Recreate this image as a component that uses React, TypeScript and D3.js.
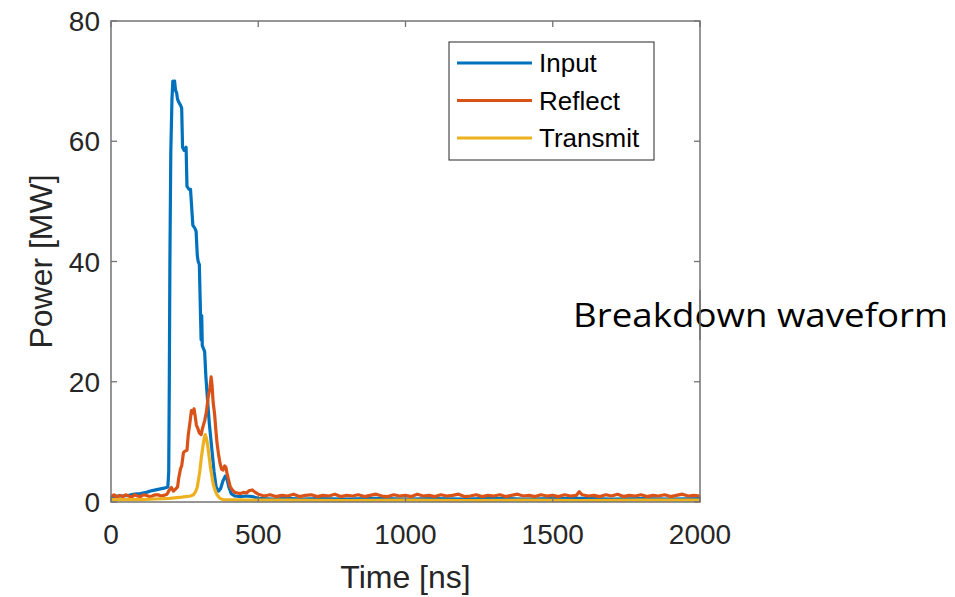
import React from "react";
import * as d3 from "d3";

// ---- data (time in ns, power in MW) ----
const inputT = [0, 20, 40, 60, 80, 100, 120, 140, 160, 180, 193, 196, 198, 200, 203, 207, 210, 213, 216, 219, 223, 226, 230, 236, 240, 243, 248, 255, 258, 265, 270, 278, 285, 289, 293, 296, 300, 304, 306, 308, 310, 314, 318, 322, 327, 334, 342, 350, 357, 365, 372, 380, 388, 394, 400, 408, 420, 440, 460, 480, 500, 550, 600, 650, 700, 800, 900, 1000, 1100, 1200, 1300, 1400, 1500, 1600, 1700, 1800, 1900, 2000];
const inputP = [0.9, 1.0, 1.0, 1.1, 1.3, 1.4, 1.6, 1.9, 2.1, 2.3, 2.5, 5, 20, 40, 58, 67, 70, 69.6, 70, 68.5, 68, 67, 66.5, 66, 65.5, 59, 58.5, 59, 52.5, 52, 52, 46, 45.5, 45, 41, 40, 39.5, 31, 27, 31, 26, 25.5, 25, 21, 17.5, 13, 9, 5, 2.5, 1.8, 2.2, 3.5, 4.3, 3.8, 2.5, 1.4, 1.0, 0.9, 1.0, 0.9, 0.6, 0.5, 0.6, 0.5, 0.55, 0.5, 0.6, 0.5, 0.55, 0.5, 0.6, 0.5, 0.55, 0.6, 0.5, 0.55, 0.5, 0.55];

const reflectT = [0, 10, 20, 30, 40, 50, 60, 70, 80, 90, 100, 110, 120, 130, 140, 150, 160, 170, 180, 190, 198, 205, 212, 220, 226, 230, 236, 240, 246, 252, 258, 262, 268, 273, 278, 282, 286, 290, 295, 300, 306, 312, 318, 324, 330, 336, 340, 343, 347, 352, 356, 360, 365, 370, 375, 380, 386, 390, 395, 400, 405, 412, 420, 430, 440, 450, 460, 470, 480, 490, 500,
  520, 540, 560, 580, 600, 620, 640, 660, 680, 700, 720, 740, 760, 780, 800, 820, 840, 860, 880, 900, 920, 940, 960, 980, 1000, 1020, 1040, 1060, 1080, 1100, 1120, 1140, 1160, 1180, 1200, 1220, 1240, 1260, 1280, 1300, 1320, 1340, 1360, 1380, 1400, 1420, 1440, 1460, 1480, 1500, 1520, 1540, 1560, 1580, 1590, 1600, 1620, 1640, 1660, 1680, 1700, 1720, 1740, 1760, 1780, 1800, 1820, 1840, 1860, 1880, 1900, 1920, 1940, 1960, 1980, 2000];
const reflectP = [0.9, 1.2, 0.8, 1.1, 0.9, 1.2, 1.0, 0.8, 1.2, 1.0, 0.9, 1.2, 1.1, 0.9, 1.0, 1.2, 1.2, 1.0, 1.1, 1.3, 2.0, 2.4, 1.8, 2.2, 2.5, 4, 5.5, 6, 8.2, 8.5, 8.6, 11, 13.2, 15.2, 14.8, 15.5, 14.2, 12.8, 12.2, 11.5, 11.2, 12.5, 13.5, 15, 17.5, 19, 20.8, 19.5, 16.5, 14.5, 12, 9.8, 8, 6.5, 5.5, 5.3, 6.0, 5.8, 4.5, 3.5, 2.5, 2.0, 1.6, 1.5, 1.4, 1.6, 1.5, 1.9, 2.0, 1.6, 1.3,
  1.0, 1.2, 0.9, 1.1, 1.0, 1.3, 0.9, 1.1, 1.2, 0.9, 1.1, 1.0, 1.3, 0.9, 1.1, 1.0, 1.2, 0.9, 1.1, 1.3, 1.0, 0.9, 1.2, 1.0, 1.1, 0.9, 1.3, 1.0, 1.1, 0.9, 1.2, 1.0, 1.1, 1.3, 0.9, 1.0, 1.2, 0.9, 1.1, 1.0, 1.2, 0.9, 1.1, 1.3, 1.0, 1.1, 0.9, 1.2, 1.0, 1.1, 0.9, 1.2, 1.0, 1.1, 1.7, 1.2, 1.0, 1.1, 0.9, 1.2, 1.0, 1.3, 0.9, 1.1, 1.0, 1.2, 0.9, 1.1, 1.0, 1.2, 0.9, 1.1, 1.3, 1.0, 1.1, 1.0];

const transmitT = [0, 100, 150, 200, 240, 270, 280, 288, 293, 298, 302, 307, 312, 316, 320, 324, 328, 332, 337, 342, 347, 353, 360, 370, 380, 450, 600, 800, 1000, 1200, 1400, 1600, 1800, 2000];
const transmitP = [0.4, 0.4, 0.5, 0.6, 0.8, 1.0, 1.2, 1.8, 2.5, 4, 5.3, 7.5, 9.2, 10.5, 11.2, 10.6, 9.5, 8, 6, 4.5, 3, 2, 1.2, 0.6, 0.4, 0.3, 0.3, 0.25, 0.3, 0.25, 0.3, 0.25, 0.3, 0.3];

const xTicks = [0, 500, 1000, 1500, 2000];
const yTicks = [0, 20, 40, 60, 80];
const seriesNames = ["Input", "Reflect", "Transmit"];
const seriesColors = ["#0072BD", "#D95319", "#EDB120"];

export default function App() {
  const x = d3.scaleLinear().domain([0, 2000]).range([111, 700]);
  const y = d3.scaleLinear().domain([0, 80]).range([502, 21]);
  const line = d3
    .line<[number, number]>()
    .x((d) => x(d[0]))
    .y((d) => y(d[1]));
  const series: [number, number][][] = [
    inputT.map((t, i) => [t, inputP[i]] as [number, number]),
    reflectT.map((t, i) => [t, reflectP[i]] as [number, number]),
    transmitT.map((t, i) => [t, transmitP[i]] as [number, number]),
  ];
  const axisColor = "#737373";
  const textColor = "#262626";
  const font = "'Liberation Sans', Arial, Helvetica, sans-serif";
  const [x0, x1] = x.range();
  const [y0, y1] = y.range();

  return (
    <svg
      width={955}
      height={597}
      style={{ position: "absolute", left: 0, top: 0, background: "#fff" }}
    >
      <rect x={0} y={0} width={955} height={597} fill="#fff" />
      <defs>
        <clipPath id="plotClip">
          <rect x={x0} y={y1} width={x1 - x0} height={y0 - y1} />
        </clipPath>
      </defs>
      <g clipPath="url(#plotClip)">
        {series.map((s, i) => (
          <path
            key={i}
            d={line(s) || ""}
            fill="none"
            stroke={seriesColors[i]}
            strokeWidth={3.2}
            strokeLinejoin="round"
          />
        ))}
      </g>
      {/* ticks */}
      {xTicks.map((t) => (
        <g key={"xt" + t}>
          <line x1={x(t)} x2={x(t)} y1={y0} y2={y0 - 6} stroke={axisColor} strokeWidth={1.3} />
          <line x1={x(t)} x2={x(t)} y1={y1} y2={y1 + 6} stroke={axisColor} strokeWidth={1.3} />
          <text
            x={x(t)}
            y={544}
            textAnchor="middle"
            fontFamily={font}
            fontSize={28}
            fill={textColor}
          >
            {t}
          </text>
        </g>
      ))}
      {yTicks.map((t) => (
        <g key={"yt" + t}>
          <line x1={x0} x2={x0 + 6} y1={y(t)} y2={y(t)} stroke={axisColor} strokeWidth={1.3} />
          <line x1={x1} x2={x1 - 6} y1={y(t)} y2={y(t)} stroke={axisColor} strokeWidth={1.3} />
          <text
            x={100}
            y={y(t)}
            dy="0.36em"
            textAnchor="end"
            fontFamily={font}
            fontSize={28}
            fill={textColor}
          >
            {t}
          </text>
        </g>
      ))}
      {/* box */}
      <rect
        x={x0}
        y={y1}
        width={x1 - x0}
        height={y0 - y1}
        fill="none"
        stroke={axisColor}
        strokeWidth={1.5}
      />
      {/* axis labels */}
      <text
        x={(x0 + x1) / 2}
        y={588}
        textAnchor="middle"
        fontFamily={font}
        fontSize={32}
        fill={textColor}
      >
        Time [ns]
      </text>
      <text
        transform={`translate(52,${(y0 + y1) / 2}) rotate(-90)`}
        textAnchor="middle"
        fontFamily={font}
        fontSize={32}
        fill={textColor}
      >
        Power [MW]
      </text>
      {/* legend */}
      <g>
        <rect x={449} y={42} width={205} height={118} fill="#fff" stroke={textColor} strokeWidth={1} />
        {seriesNames.map((n, i) => {
          const ly = 63 + i * 37.5;
          return (
            <g key={n}>
              <line x1={457} x2={532} y1={ly} y2={ly} stroke={seriesColors[i]} strokeWidth={3} />
              <text
                x={539}
                y={ly}
                dy="0.36em"
                fontFamily={font}
                fontSize={26}
                fill="#000"
              >
                {n}
              </text>
            </g>
          );
        })}
      </g>
      {/* annotation */}
      <text
        x={573}
        y={327}
        fontFamily="'Open Sans', 'Noto Sans', sans-serif"
        fontSize={33}
        textLength={375}
        lengthAdjust="spacingAndGlyphs"
        fill="#000"
      >
        Breakdown waveform
      </text>
      <line x1={x1} x2={x1} y1={290} y2={340} stroke={axisColor} strokeWidth={1.5} />
    </svg>
  );
}
